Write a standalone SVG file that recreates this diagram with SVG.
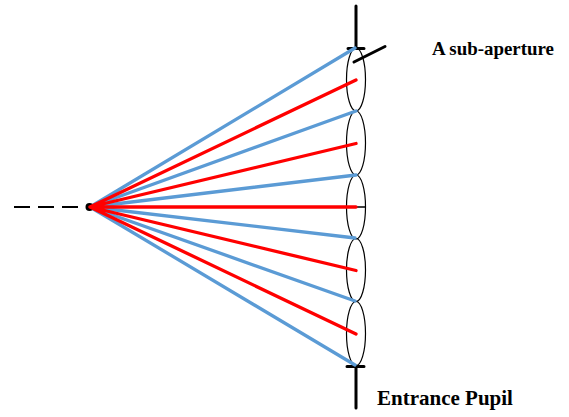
<svg xmlns="http://www.w3.org/2000/svg" width="569" height="417" viewBox="0 0 569 417">
<style>
.lens{fill:none;stroke:#000;stroke-width:1.2}
.k{stroke:#000;stroke-width:3;stroke-linecap:round;fill:none}
.b{stroke:#5b9bd5;stroke-width:3.300;stroke-linecap:round;fill:none}
.r{stroke:#ff0000;stroke-width:3.300;stroke-linecap:round;fill:none}
.t{font-family:"Liberation Serif",serif;font-weight:bold;fill:#000}
</style>
<rect width="569" height="417" fill="#fff"/>
<g id="aperture-stop">
<path class="k" d="M356 6V48M348 48.500H364M356 366V408M347 366.500H364"/>
</g>
<g id="lenses">
<ellipse id="lens-1" class="lens" cx="356" cy="79.500" rx="9.500" ry="31.500"/>
<ellipse id="lens-2" class="lens" cx="356" cy="143" rx="9.500" ry="32"/>
<ellipse id="lens-3" class="lens" cx="356" cy="207" rx="9.500" ry="32"/>
<ellipse id="lens-4" class="lens" cx="356" cy="270" rx="9.500" ry="31.500"/>
<ellipse id="lens-5" class="lens" cx="356" cy="333.500" rx="9.500" ry="32"/>
</g>
<g id="connectors">
<path d="M14 207H92" stroke="#000" stroke-width="2" stroke-dasharray="16 8" fill="none"/>
<path d="M356 207H365" stroke="#000" stroke-width="1.500" fill="none"/>
<path class="k" d="M354 62L385 46.500"/>
<path class="b" d="M90 207L355 48M90 207L356 111M90 207L356 175M90 207L355 238M90 207L355 301M90 207L355 365"/>
</g>
<g id="point"><circle cx="89.500" cy="207" r="4" fill="#000"/></g>
<g id="chief-rays">
<path class="r" d="M90 207L356 80M90 207L356 143.500M90 207L356 207M90 207L356 270.500M90 207L356 334"/>
</g>
<g id="label-sub-aperture"><text class="t" x="432" y="55" font-size="18.900">A sub-aperture</text></g>
<g id="label-entrance-pupil"><text class="t" x="377" y="405" font-size="21">Entrance Pupil</text></g>
</svg>
